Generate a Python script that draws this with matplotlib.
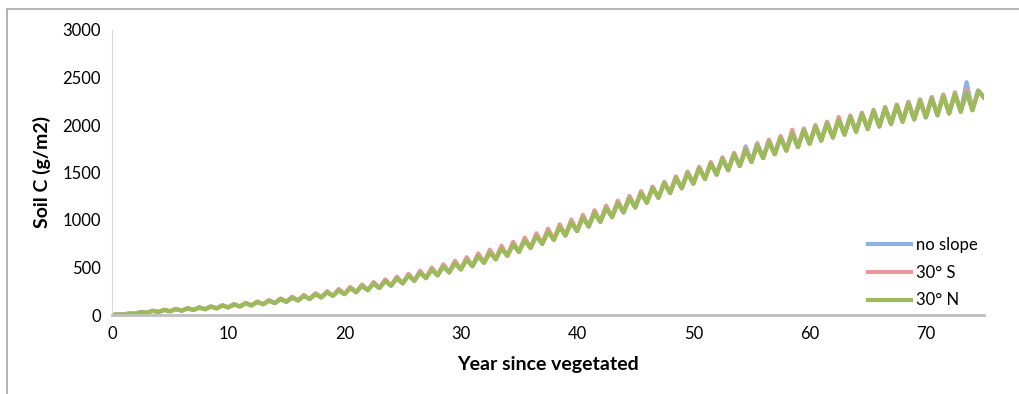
import matplotlib.pyplot as plt
import numpy as np

# yearly lows and highs (g/m2)
years = np.arange(75)

troughs = [1, 5, 14, 23, 32, 39, 45, 53, 61, 70,
           80, 90, 101, 113, 125, 139, 153, 169, 185, 202,
           220, 240, 261, 284, 308, 333, 360, 388, 417, 448,
           480, 514, 549, 586, 624, 664, 705, 748, 792, 837,
           883, 931, 980, 1030, 1080, 1131, 1182, 1233, 1284, 1334,
           1383, 1431, 1478, 1524, 1568, 1611, 1652, 1692, 1730, 1767,
           1802, 1836, 1868, 1899, 1929, 1957, 1984, 2010, 2035, 2058,
           2080, 2102, 2122, 2140, 2156]

peaks_flat = [6, 16, 31, 44, 54, 63, 71, 79, 89, 100,
              112, 124, 138, 152, 168, 185, 203, 222, 242, 264,
              287, 311, 336, 363, 391, 420, 452, 484, 518, 554,
              590, 628, 667, 708, 750, 794, 839, 886, 934, 983,
              1033, 1083, 1134, 1186, 1250, 1291, 1344, 1397, 1450, 1500,
              1552, 1602, 1652, 1700, 1775, 1810, 1833, 1875, 1915, 1955,
              1990, 2027, 2060, 2093, 2125, 2155, 2185, 2212, 2240, 2265,
              2290, 2320, 2332, 2450, 2365]

peaks_south = [6, 17, 33, 47, 56, 65, 74, 82, 92, 104,
               116, 129, 143, 158, 175, 192, 211, 230, 251, 273,
               296, 321, 347, 375, 404, 434, 466, 499, 534, 571,
               608, 648, 688, 729, 770, 815, 860, 908, 955, 1005,
               1055, 1103, 1152, 1203, 1252, 1305, 1352, 1402, 1460, 1510,
               1560, 1610, 1660, 1708, 1760, 1800, 1845, 1885, 1950, 1965,
               2000, 2035, 2085, 2100, 2130, 2160, 2190, 2215, 2245, 2270,
               2295, 2320, 2345, 2370, 2360]

peaks_north = [5, 15, 30, 43, 52, 61, 69, 77, 87, 98,
               110, 122, 135, 149, 165, 181, 199, 217, 237, 258,
               280, 304, 329, 356, 384, 413, 444, 476, 509, 544,
               580, 618, 657, 698, 740, 784, 829, 876, 924, 973,
               1023, 1073, 1124, 1176, 1228, 1281, 1334, 1387, 1440, 1492,
               1543, 1593, 1642, 1690, 1736, 1781, 1824, 1866, 1906, 1945,
               1982, 2018, 2052, 2085, 2117, 2147, 2176, 2204, 2231, 2256,
               2280, 2302, 2322, 2340, 2356]

end_value = 2290

series = ['no slope', '30° S', '30° N']
colors = ['#8DB3E2', '#E6989A', '#9BBB59']


def zigzag(lows, highs):
    # low at start of year, high mid-year
    x = np.empty(2 * len(years) + 1)
    y = np.empty(2 * len(years) + 1)
    x[0:-1:2] = years
    x[1:-1:2] = years + 0.5
    x[-1] = 75
    y[0:-1:2] = lows
    y[1:-1:2] = highs
    y[-1] = end_value
    return x, y


fig = plt.figure(figsize=(10.2, 3.94), dpi=100)
plt.rcParams['font.family'] = ['Lato', 'DejaVu Sans']

# outer chart border (only top and left are in view)
fig.add_artist(plt.Rectangle((7 / 1020, -0.1), 1.2, 1 - 9 / 394 + 0.1,
                             transform=fig.transFigure, fill=False,
                             edgecolor='#A6A6A6', lw=1.2))

ax = fig.add_axes([112 / 1020, 1 - 315 / 394, (984 - 112) / 1020, (315 - 30) / 394])

for peaks, name, c in zip([peaks_flat, peaks_south, peaks_north], series, colors):
    x, y = zigzag(troughs, peaks)
    ax.plot(x, y, color=c, lw=3.0, label=name, solid_joinstyle='round')

ax.set_xlim(0, 75)
ax.set_ylim(0, 3000)
ax.set_xticks(range(0, 71, 10))
ax.set_yticks(range(0, 3001, 500))
ax.tick_params(length=0, labelsize=12, colors='#000000', pad=8)

for s in ['top', 'right']:
    ax.spines[s].set_visible(False)
ax.spines['left'].set_color('#D9D9D9')
ax.spines['bottom'].set_color('#BFBFBF')
ax.spines['bottom'].set_linewidth(2)

ax.set_xlabel('Year since vegetated', fontsize=14, fontweight='bold', labelpad=10)
ax.set_ylabel('Soil C (g/m2)', fontsize=14, fontweight='bold', labelpad=8)

ax.legend(loc='upper left', bbox_to_anchor=(853 / 1020, 1 - 222 / 394),
          bbox_transform=fig.transFigure, frameon=False, fontsize=12,
          handlelength=2.6, handletextpad=0.3, labelspacing=0.7)

fig.savefig('out.png', dpi=100)
